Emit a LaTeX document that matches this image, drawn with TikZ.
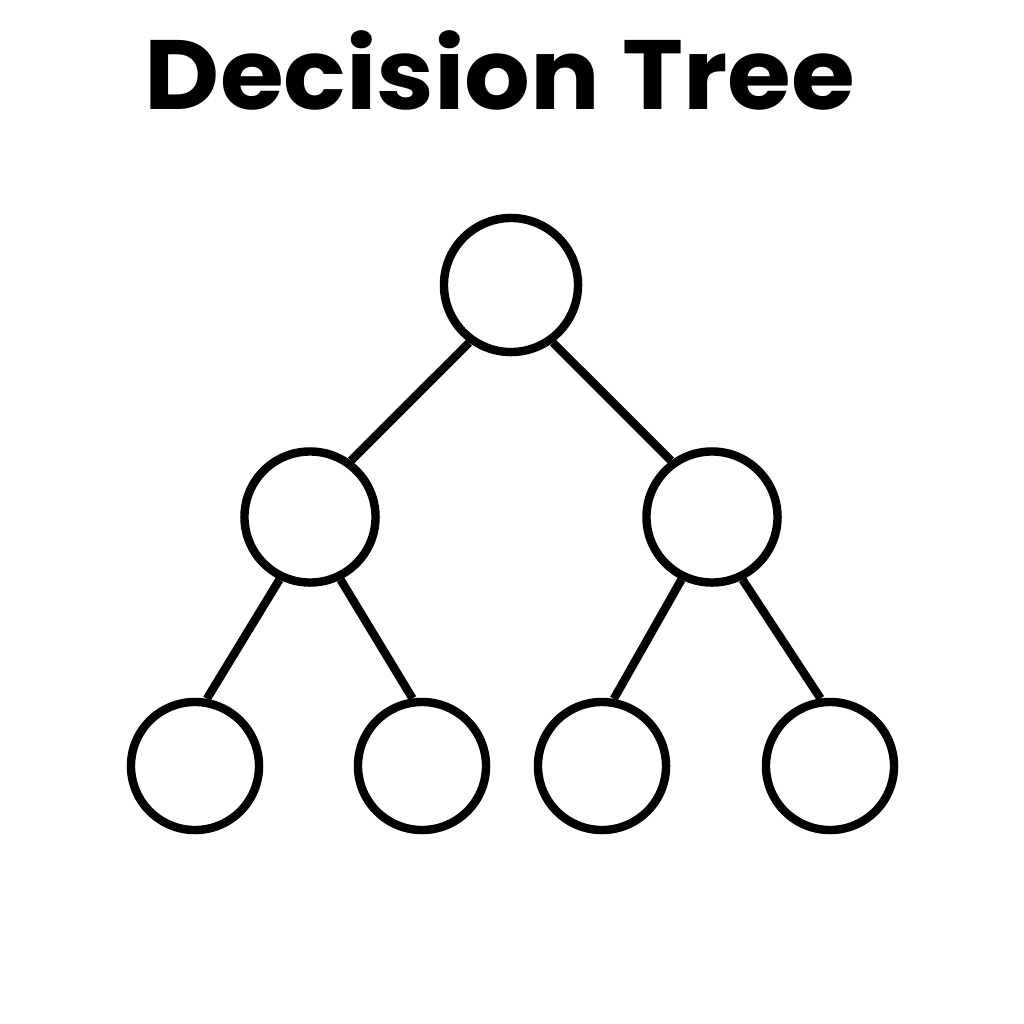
\documentclass[tikz,border=0pt]{standalone}
\usepackage{fontspec}
\usepackage{graphicx}
\setmainfont{Poppins}

\begin{document}
\begin{tikzpicture}[-,
					x=0.01cm, y=-0.01cm,
					line width=2.4pt,
					root node/.style={circle,draw,inner sep=0pt,minimum size=1.34cm},
					mid node/.style={circle,draw,inner sep=0pt,minimum size=1.31cm},
					leaf node/.style={circle,draw,inner sep=0pt,minimum size=1.28cm}]

  \useasboundingbox (0,0) rectangle (1024,1024);

  \node (title) at (500,70) {\scalebox{1.05}[1]{\fontsize{28}{32}\selectfont\bfseries Decision Tree}};

  \node[root node] (R) at (511,285) {};
  \node[mid node] (L) at (310,517) {};
  \node[mid node] (M) at (712,517) {};
  \node[leaf node] (LL) at (195,766) {};
  \node[leaf node] (LR) at (422,766) {};
  \node[leaf node] (ML) at (602,766) {};
  \node[leaf node] (MR) at (830,766) {};

  \path
    (R.234) edge (L.54)
    (R.306) edge (M.126)
    (L.244) edge (LL.80)
    (L.296) edge (LR.98)
    (M.244) edge (ML.80)
    (M.296) edge (MR.98);
\end{tikzpicture}
\end{document}
